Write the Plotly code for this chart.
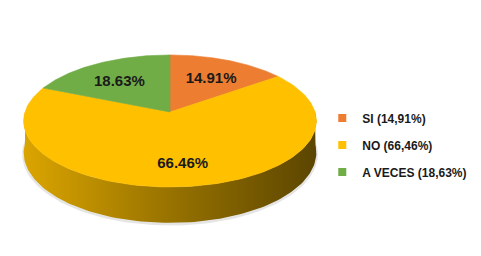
import numpy as np
import plotly.graph_objects as go

# ---- data ----
categories = ["SI", "NO", "A VECES"]
values = [14.91, 66.46, 18.63]
value_labels = ["14.91%", "66.46%", "18.63%"]
legend_labels = ["SI (14,91%)", "NO (66,46%)", "A VECES (18,63%)"]
colors = ["#ED7D31", "#FFC000", "#70AD47"]

# ---- 3D pie geometry (pixel-like coordinates, y downward) ----
CX, CY = 170.0, 112.0
RX, RY = 145.0, 64.8
K = 0.136        # perspective strength
DEPTH = 31.0     # thickness of the pie
LABEL_R = 0.68
LABEL_DY = 4.0


def proj(phi_deg, r=1.0, dz=0.0):
    p = np.radians(phi_deg)
    s = 1.0 / (1.0 + K * r * np.sin(p))
    x = CX + RX * r * np.cos(p) * s
    y = CY - RY * r * np.sin(p) * s + dz * s
    return x, y


def hex_rgb(h):
    h = h.lstrip("#")
    return tuple(int(h[i:i + 2], 16) for i in (0, 2, 4))


def shade(h, f):
    r, g, b = hex_rgb(h)
    return f"rgb({int(r*f)},{int(g*f)},{int(b*f)})"


total = sum(values)
bounds = []
start = 90.0
for v in values:
    end = start - v / total * 360.0
    bounds.append((start, end))
    start = end

fig = go.Figure()

# soft shadow under the pie
ph = np.linspace(0, 360, 200)
xs, ys = proj(ph, r=1.01, dz=DEPTH + 1.5)
fig.add_trace(go.Scatter(x=xs, y=ys, mode="lines", line=dict(width=0),
                         fill="toself", fillcolor="rgba(0,0,0,0.10)",
                         hoverinfo="skip", showlegend=False))

# side wall (front half, phi in [-180, 0])
for (a0, a1), c in zip(bounds, colors):
    lo, hi = min(a0, a1), max(a0, a1)
    for shift in (-360, 0, 360):
        l2, h2 = max(lo + shift, -180.0), min(hi + shift, 0.0)
        if h2 - l2 <= 0.01:
            continue
        ph = np.linspace(l2, h2, 120)
        xt, yt = proj(ph)
        xb, yb = proj(ph[::-1], dz=DEPTH)
        fig.add_trace(go.Scatter(
            x=np.concatenate([xt, xb]), y=np.concatenate([yt, yb]),
            mode="lines", line=dict(width=0), fill="toself",
            fillgradient=dict(type="horizontal",
                              colorscale=[[0, shade(c, 0.86)], [0.45, shade(c, 0.62)],
                                          [1, shade(c, 0.36)]]),
            hoverinfo="skip", showlegend=False))

# top face slices
for (a0, a1), c in zip(bounds, colors):
    ph = np.linspace(a0, a1, 150)
    xs, ys = proj(ph)
    fig.add_trace(go.Scatter(
        x=np.concatenate([[CX], xs, [CX]]), y=np.concatenate([[CY], ys, [CY]]),
        mode="lines", line=dict(width=0.6, color=c), fill="toself", fillcolor=c,
        hoverinfo="skip", showlegend=False))

# value labels
lx, ly = [], []
for (a0, a1) in bounds:
    mid = (a0 + a1) / 2.0
    x, y = proj(mid, r=LABEL_R)
    lx.append(x)
    ly.append(y + LABEL_DY)
fig.add_trace(go.Scatter(
    x=lx, y=ly, mode="text", text=value_labels,
    textfont=dict(family="Liberation Sans", size=15, color="#1a1a1a", weight="bold"),
    hoverinfo="skip", showlegend=False))

# legend entries
for i, (name, c) in enumerate(zip(legend_labels, colors)):
    fig.add_trace(go.Scatter(
        x=[None], y=[None], mode="markers", name=name, legendgroup=str(i),
        marker=dict(symbol="square", size=8, color=c)))

fig.update_layout(
    width=481, height=256, margin=dict(l=0, r=0, t=0, b=0),
    paper_bgcolor="white", plot_bgcolor="white",
    xaxis=dict(range=[0, 481], visible=False, fixedrange=True),
    yaxis=dict(range=[256, 0], visible=False, fixedrange=True),
    showlegend=True,
    legend=dict(x=0.67, y=0.434, xanchor="left", yanchor="middle",
                font=dict(family="Liberation Sans", size=12,
                          color="#1a1a1a", weight="bold"),
                tracegroupgap=8, itemwidth=30, bgcolor="rgba(0,0,0,0)"),
)

fig.write_html("out.html")
